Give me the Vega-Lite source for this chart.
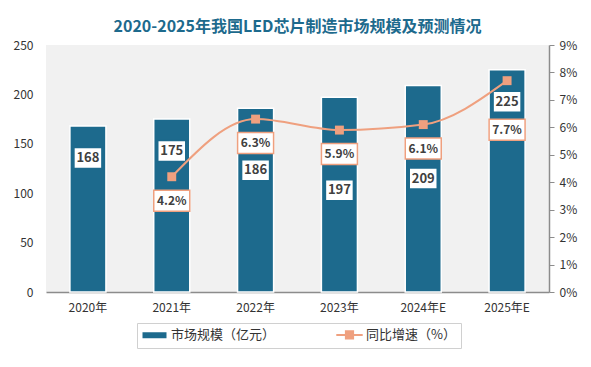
{
  "$schema": "https://vega.github.io/schema/vega-lite/v6.json",
  "width": 503,
  "height": 247,
  "autosize": "none",
  "padding": {"left": 46, "top": 45, "right": 42, "bottom": 75},
  "background": "white",
  "config": {
    "font": "Noto Sans CJK SC",
    "view": {"fill": "#f1f1f1", "stroke": null}
  },
  "title": {
    "text": "2020-2025年我国LED芯片制造市场规模及预测情况",
    "fontSize": 16,
    "fontWeight": "bold",
    "color": "#1D6A8D",
    "anchor": "middle",
    "offset": 4
  },
  "data": {
    "values": [
      {"year": "2020年", "value": 168, "pct": null},
      {"year": "2021年", "value": 175, "pct": 0.042},
      {"year": "2022年", "value": 186, "pct": 0.063},
      {"year": "2023年", "value": 197, "pct": 0.059},
      {"year": "2024年E", "value": 209, "pct": 0.061},
      {"year": "2025年E", "value": 225, "pct": 0.077}
    ]
  },
  "encoding": {
    "x": {
      "field": "year",
      "type": "nominal",
      "sort": null,
      "scale": {"paddingInner": 0.57, "paddingOuter": 0.285},
      "axis": {
        "title": null,
        "labelAngle": 0,
        "labelFontSize": 12,
        "labelColor": "#333333",
        "labelPadding": 10,
        "ticks": false,
        "domainColor": "#8c8c8c",
        "domainWidth": 1.5
      }
    }
  },
  "layer": [
    {
      "encoding": {
        "y": {
          "field": "value",
          "type": "quantitative",
          "scale": {"domain": [0, 250]},
          "axis": {
            "title": null,
            "values": [0, 50, 100, 150, 200, 250],
            "grid": false,
            "domain": false,
            "ticks": false,
            "labelPadding": 13,
            "labelFontSize": 12,
            "labelColor": "#333333"
          }
        }
      },
      "layer": [
        {
          "mark": {"type": "bar", "stroke": "white", "strokeWidth": 1.5},
          "encoding": {
            "color": {
              "datum": "市场规模（亿元）",
              "type": "nominal",
              "scale": {
                "domain": ["市场规模（亿元）", "同比增速（%）"],
                "range": ["#1D6A8D", "#EFA07F"]
              },
              "legend": {
                "title": null,
                "orient": "none",
                "legendX": 91,
                "legendY": 278,
                "direction": "horizontal",
                "columnPadding": 56,
                "padding": 5,
                "strokeColor": "#d0d0d0",
                "labelFontSize": 13,
                "labelColor": "#333333",
                "symbolSize": 144,
                "symbolOffset": 6,
                "labelOffset": 10,
                "symbolType": {"expr": "datum.value === '市场规模（亿元）' ? 'M-2,-0.5H2V0.5H-2Z' : 'M-2.2,0H2.2M-0.6,-0.6H0.6V0.6H-0.6Z'"},
                "symbolStrokeWidth": {"expr": "datum.value === '市场规模（亿元）' ? 0 : 2"},
                "symbolOpacity": 1
              }
            }
          }
        },
        {
          "transform": [{"filter": "indexof(['2020年','2021年','2025年E'], datum.year) >= 0"}],
          "mark": {"type": "point", "shape": "M-1.4,-1.05H1.4V1.05H-1.4Z", "size": 400, "filled": true, "fill": "white", "stroke": "#1D6A8D", "strokeWidth": 1.5, "opacity": 1, "yOffset": 32}
        },
        {
          "transform": [{"filter": "indexof(['2020年','2021年','2025年E'], datum.year) >= 0"}],
          "mark": {"type": "text", "fontSize": 13, "fontWeight": "bold", "color": "#404040", "baseline": "middle", "yOffset": 32},
          "encoding": {"text": {"field": "value", "type": "quantitative"}}
        },
        {
          "transform": [{"filter": "datum.year === '2022年'"}],
          "mark": {"type": "point", "shape": "M-1.4,-1.05H1.4V1.05H-1.4Z", "size": 400, "filled": true, "fill": "white", "stroke": "#1D6A8D", "strokeWidth": 1.5, "opacity": 1, "yOffset": 62}
        },
        {
          "transform": [{"filter": "datum.year === '2022年'"}],
          "mark": {"type": "text", "fontSize": 13, "fontWeight": "bold", "color": "#404040", "baseline": "middle", "yOffset": 62},
          "encoding": {"text": {"field": "value", "type": "quantitative"}}
        },
        {
          "transform": [{"filter": "datum.year === '2023年' || datum.year === '2024年E'"}],
          "mark": {"type": "point", "shape": "M-1.4,-1.05H1.4V1.05H-1.4Z", "size": 400, "filled": true, "fill": "white", "stroke": "#1D6A8D", "strokeWidth": 1.5, "opacity": 1, "yOffset": 93}
        },
        {
          "transform": [{"filter": "datum.year === '2023年' || datum.year === '2024年E'"}],
          "mark": {"type": "text", "fontSize": 13, "fontWeight": "bold", "color": "#404040", "baseline": "middle", "yOffset": 93},
          "encoding": {"text": {"field": "value", "type": "quantitative"}}
        }
      ]
    },
    {
      "transform": [{"filter": "isValid(datum.pct)"}],
      "encoding": {
        "y": {
          "field": "pct",
          "type": "quantitative",
          "scale": {"domain": [0, 0.09]},
          "axis": {
            "orient": "right",
            "title": null,
            "values": [0, 0.01, 0.02, 0.03, 0.04, 0.05, 0.06, 0.07, 0.08, 0.09],
            "format": ".0%",
            "grid": false,
            "domain": true,
            "domainColor": "#8c8c8c",
            "domainWidth": 1.5,
            "ticks": true,
            "tickColor": "#8c8c8c",
            "tickSize": 5,
            "labelPadding": 5,
            "labelFontSize": 12,
            "labelColor": "#333333"
          }
        }
      },
      "layer": [
        {
          "mark": {"type": "line", "interpolate": "monotone", "strokeWidth": 2, "point": {"shape": "square", "size": 80, "filled": true}},
          "encoding": {"color": {"datum": "同比增速（%）", "type": "nominal", "legend": null}}
        },
        {
          "transform": [{"filter": "datum.year !== '2025年E'"}],
          "mark": {"type": "point", "shape": "M-1.8,-1.05H1.8V1.05H-1.8Z", "size": 400, "filled": true, "fill": "white", "stroke": "#EFA07F", "strokeWidth": 1.5, "opacity": 1, "yOffset": 24}
        },
        {
          "transform": [{"filter": "datum.year !== '2025年E'"}],
          "mark": {"type": "text", "fontSize": 12, "fontWeight": "bold", "color": "#404040", "baseline": "middle", "yOffset": 24},
          "encoding": {"text": {"field": "pct", "type": "quantitative", "format": ".1%"}}
        },
        {
          "transform": [{"filter": "datum.year === '2025年E'"}],
          "mark": {"type": "point", "shape": "M-1.8,-1.05H1.8V1.05H-1.8Z", "size": 400, "filled": true, "fill": "white", "stroke": "#EFA07F", "strokeWidth": 1.5, "opacity": 1, "yOffset": 49}
        },
        {
          "transform": [{"filter": "datum.year === '2025年E'"}],
          "mark": {"type": "text", "fontSize": 12, "fontWeight": "bold", "color": "#404040", "baseline": "middle", "yOffset": 49},
          "encoding": {"text": {"field": "pct", "type": "quantitative", "format": ".1%"}}
        }
      ]
    }
  ],
  "resolve": {"scale": {"y": "independent"}}
}
